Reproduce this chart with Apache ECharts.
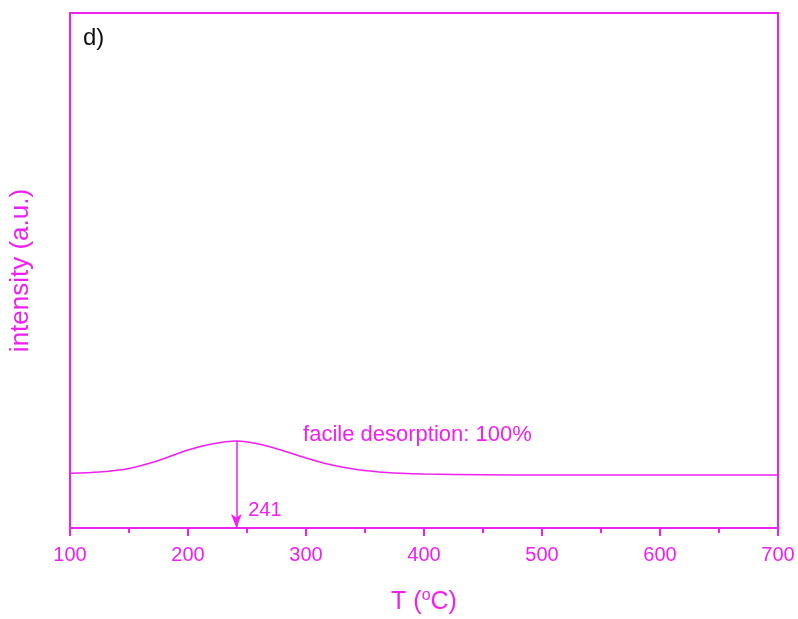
<!DOCTYPE html>
<html>
<head>
<meta charset="utf-8">
<script src="https://cdn.jsdelivr.net/npm/echarts@6/dist/echarts.min.js"></script>
<style>
  html, body { margin: 0; padding: 0; background: #fff; }
  #chart { width: 798px; height: 619px; }
</style>
</head>
<body>
<div id="chart"></div>
<script>
// TPD trace (a.u.)
const temps = [100, 125, 150, 175, 200, 220, 241, 260, 280, 300, 320, 340, 360, 380, 400, 450, 500, 600, 700]
const intensity = [54.7, 56, 59.5, 67.5, 78, 84, 87, 84, 77.5, 70, 63.5, 59, 56.3, 54.8, 54, 53.3, 53, 53, 53]
const peakT = 241
const peakLabel = '241'
const noteText = 'facile desorption: 100%'
const xTicks = [100, 200, 300, 400, 500, 600, 700]

const pink = '#f020f0'
const font = 'Liberation Sans, Arial, sans-serif'

const chart = echarts.init(document.getElementById('chart'))

chart.setOption({
  animation: false,
  backgroundColor: '#fff',
  title: {
    text: 'd)',
    left: 78,
    top: 21,
    textStyle: { color: '#111', fontSize: 24, fontWeight: 'normal', fontFamily: font }
  },
  grid: {
    left: 70,
    right: 20,
    top: 13,
    bottom: 91,
    outerBoundsMode: 'none',
    show: true,
    borderColor: pink,
    borderWidth: 2
  },
  xAxis: {
    type: 'value',
    min: xTicks[0],
    max: xTicks[xTicks.length - 1],
    interval: 100,
    name: 'T ({sup|o}C)',
    nameLocation: 'middle',
    nameGap: 60,
    nameTextStyle: {
      color: pink,
      fontSize: 25,
      fontFamily: font,
      rich: {
        sup: { fontSize: 16, color: pink, fontFamily: font, padding: [0, 0, 12, 0] }
      }
    },
    axisLine: { show: true, lineStyle: { color: pink, width: 2 } },
    axisTick: { show: true, length: 8, lineStyle: { color: pink, width: 2 } },
    minorTick: { show: true, splitNumber: 2, length: 5, lineStyle: { color: pink, width: 2 } },
    axisLabel: { color: pink, fontSize: 20, fontFamily: font, margin: 17 },
    splitLine: { show: false }
  },
  yAxis: {
    type: 'value',
    min: 0,
    max: 515,
    name: 'intensity (a.u.)',
    nameLocation: 'middle',
    nameGap: 36,
    nameTextStyle: { color: pink, fontSize: 26, fontFamily: font },
    axisLine: { show: true, lineStyle: { color: pink, width: 2 } },
    axisTick: { show: false },
    axisLabel: { show: false },
    splitLine: { show: false }
  },
  series: [
    {
      type: 'line',
      data: temps.map((t, i) => [t, intensity[i]]),
      smooth: 0.3,
      symbol: 'none',
      lineStyle: { color: pink, width: 1.5 },
      markLine: {
        silent: true,
        symbol: ['none', 'arrow'],
        symbolSize: [8, 14],
        label: { show: false },
        lineStyle: { color: pink, width: 1.5, type: 'solid' },
        data: [[{ coord: [peakT, intensity[temps.indexOf(peakT)]] }, { coord: [peakT, 0] }]]
      },
      markPoint: {
        silent: true,
        symbol: 'circle',
        symbolSize: 0,
        label: { show: true, position: 'right', color: pink, fontSize: 20, fontFamily: font, distance: 0 },
        data: [
          { coord: [251, 18], value: peakLabel, label: { formatter: peakLabel } },
          { coord: [297.5, 93], value: 0, label: { formatter: noteText, fontSize: 22 } }
        ]
      }
    }
  ]
})
</script>
</body>
</html>
